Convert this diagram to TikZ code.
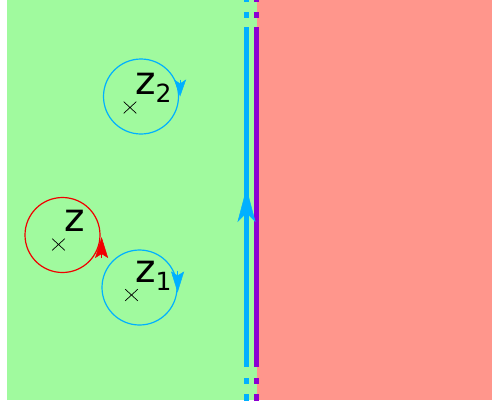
\documentclass[tikz,border=0pt]{standalone}
\usepackage{fontspec}
\setmainfont{DejaVu Sans}
\usetikzlibrary{arrows.meta,shapes.misc}
\definecolor{bggreen}{RGB}{160,250,158}
\definecolor{bgsalmon}{RGB}{255,150,140}
\definecolor{lcyan}{RGB}{0,176,255}
\definecolor{lpurple}{RGB}{140,0,210}
\definecolor{lred}{RGB}{240,0,0}
\newcommand{\subidx}[1]{\raisebox{-8pt}{\fontsize{25}{28}\selectfont #1}}
\tikzset{
  loop/.style={circle, draw, line width=1.2pt, minimum size=75pt, inner sep=0pt},
  pt/.style={draw=black, cross out, line width=0.7pt, minimum width=12pt, minimum height=11pt, inner sep=0pt},
  lab/.style={inner sep=0pt, anchor=base west, font=\fontsize{39}{42}\selectfont},
  smalltip/.style={-{Stealth[length=21pt,width=13pt,inset=4pt]}, line width=0.5pt},
  midtip/.style={-{Stealth[length=17pt,width=12pt,inset=4pt]}, line width=0.5pt},
  bigtip/.style={-{Stealth[length=34pt,width=18pt,inset=9pt]}, line width=0.5pt},
  vline/.style={line width=4.6pt},
}
\begin{document}
\begin{tikzpicture}[x=1pt,y=-1pt]
\useasboundingbox (0,0) rectangle (492,400);
\fill[white] (0,0) rectangle (492,400);
\fill[bggreen] (7,0) rectangle (257,400);
\fill[bgsalmon] (257,0) rectangle (492,400);

% vertical lines
\coordinate (ct) at (246.5,27);
\coordinate (cb) at (246.5,367);
\coordinate (pt) at (256.5,27);
\coordinate (pb) at (256.5,367);
\draw[vline, lcyan] (ct) -- (cb);
\draw[vline, lpurple] (pt) -- (pb);
\foreach \a/\b in {-4/2, 12/18, 378/384, 394/404}{
  \draw[vline, lcyan] (246.5,\a) -- (246.5,\b);
  \draw[vline, lpurple] (256.5,\a) -- (256.5,\b);
}
\coordinate (at) at (246.5,188);
\coordinate (ab) at (246.5,224);
\draw[bigtip, lcyan] (ab) -- (at);

% circles
\node[loop, draw=lcyan] (c2) at (141,96.5) {};
\node[loop, draw=lred] (c0) at (62.5,235) {};
\node[loop, draw=lcyan] (c1) at (139.5,287.5) {};

\draw[midtip, lcyan] ([xshift=1pt,yshift=17pt]c2.east) -- ([xshift=1pt]c2.east);
\draw[smalltip, lcyan] ([yshift=17pt]c1.east) -- ([yshift=-5pt]c1.east);
\draw[smalltip, lred] ([xshift=1pt,yshift=-23pt]c0.east) -- ([xshift=1pt,yshift=-2pt]c0.east);

% points
\node[pt] (p2) at (130,107.5) {};
\node[pt] (p0) at (58.5,244.5) {};
\node[pt] (p1) at (131.5,295) {};

% labels
\node[lab] (l2) at (135,94.2) {z\subidx{2}};
\node[lab] (l0) at (64.25,231.7) {z};
\node[lab] (l1) at (135,282.2) {z\subidx{1}};
\end{tikzpicture}
\end{document}
